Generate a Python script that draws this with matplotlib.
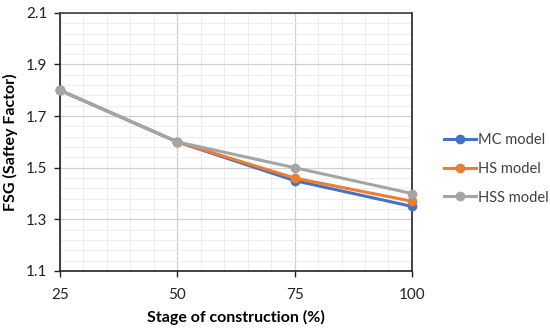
import numpy as np
import matplotlib.pyplot as plt
from matplotlib.ticker import MultipleLocator, FixedLocator

plt.rcParams['font.family'] = ['Lato', 'DejaVu Sans']

# Data
stage = [25, 50, 75, 100]
mc_model = [1.80, 1.60, 1.45, 1.35]
hs_model = [1.80, 1.60, 1.46, 1.37]
hss_model = [1.80, 1.60, 1.50, 1.40]
y_ticks = [1.1, 1.3, 1.5, 1.7, 1.9, 2.1]

fig = plt.figure(figsize=(5.5, 3.3), dpi=100)
ax = fig.add_axes([0.109, 0.179, 0.64, 0.782])

ax.plot(stage, mc_model, color='#4472C4', lw=2.2, marker='o', ms=6, label='MC model', clip_on=False, zorder=3)
ax.plot(stage, hs_model, color='#ED7D31', lw=2.2, marker='o', ms=6, label='HS model', clip_on=False, zorder=3)
ax.plot(stage, hss_model, color='#A5A5A5', lw=2.2, marker='o', ms=6, label='HSS model', clip_on=False, zorder=3)

ax.set_xlim(25, 100)
ax.set_ylim(1.1, 2.1)
ax.xaxis.set_major_locator(MultipleLocator(25))
ax.xaxis.set_minor_locator(MultipleLocator(5))
ax.yaxis.set_major_locator(FixedLocator(y_ticks))
ax.yaxis.set_minor_locator(FixedLocator(np.arange(1.1, 2.1001, 0.04)))
ax.yaxis.set_major_formatter(plt.FuncFormatter(lambda v, p: f'{v:.1f}'))

ax.grid(which='major', color='#D0D0D0', lw=0.9)
ax.grid(which='minor', color='#EDEDED', lw=0.7)
ax.set_axisbelow(True)

for s in ax.spines.values():
    s.set_color('#222222')
    s.set_linewidth(1.2)
ax.spines['top'].set_color('#404040')

ax.tick_params(which='major', length=4, width=1, labelsize=11, colors='#222222', pad=5)
ax.tick_params(which='minor', length=0)
ax.tick_params(axis='x', which='major', length=4, pad=8)

ax.set_xlabel('Stage of construction (%)', fontsize=11.5, fontweight='bold', labelpad=6)
ax.set_ylabel('FSG (Saftey Factor)', fontsize=11.5, fontweight='bold', labelpad=6)

leg = ax.legend(loc='center left', bbox_to_anchor=(1.09, 0.395), frameon=False,
                borderaxespad=0, borderpad=0,
                fontsize=10.5, handlelength=2.2, labelspacing=1.0, handletextpad=0.15)
for t in leg.get_texts():
    t.set_color('#404040')

fig.savefig('out.png', dpi=100)
